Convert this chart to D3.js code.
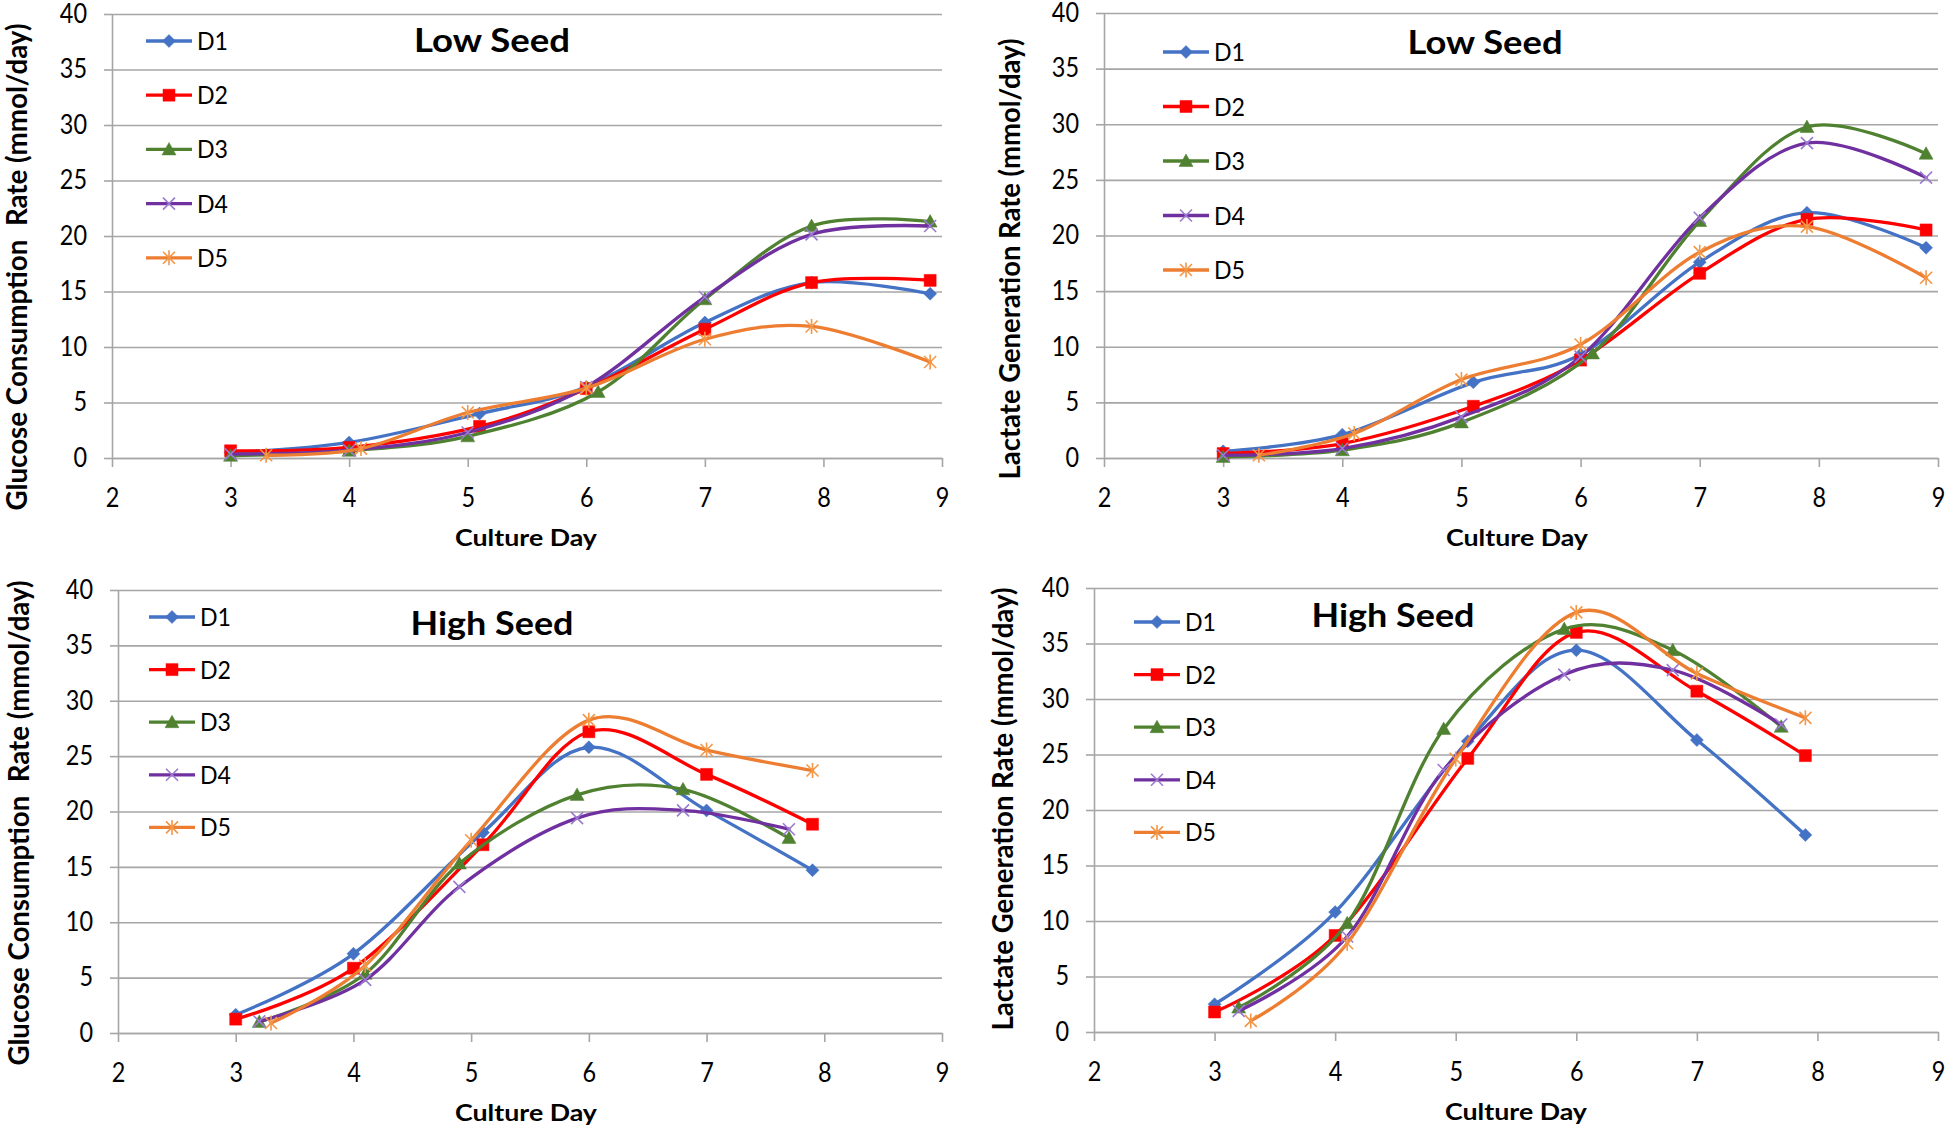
<!DOCTYPE html>
<html><head><meta charset="utf-8">
<script src="https://cdn.jsdelivr.net/npm/d3@7"></script>
<style>
html,body{margin:0;padding:0;background:#fff;}
svg{display:block;background:#fff;}
text{font-family:Lato,'Liberation Sans',sans-serif;fill:#000;}
</style></head><body>
<svg id="chart" width="1949" height="1131"></svg>
<script>
// ---------- data ----------
const seriesNames = ["D1","D2","D3","D4","D5"];
const xTickValues = [2,3,4,5,6,7,8,9];
const yTickValues = [0,5,10,15,20,25,30,35,40];

// culture days of each sample (low seed runs)
const lowDaysD1 = [3,4,5.1,6,7,7.9,8.9];
const lowDaysD2 = [3,4,5.1,6,7,7.9,8.9];
const lowDaysD3 = [3,4,5,6.1,7,7.9,8.9];
const lowDaysD4 = [3,4,5,6,7,7.9,8.9];
const lowDaysD5 = [3.3,4.1,5,6,7,7.9,8.9];
// culture days (high seed runs)
const highDaysD1 = [3,4,5.1,6,7,7.9];
const highDaysD2 = [3,4,5.1,6,7,7.9];
const highDaysD3 = [3.2,4.1,4.9,5.9,6.8,7.7];
const highDaysD4 = [3.2,4.1,4.9,5.9,6.8,7.7];
const highDaysD5 = [3.3,4.1,5,6,7,7.9];

// Low seed - glucose consumption rate (mmol/day)
const lowGlcD1 = [0.5,1.4,4.0,6.4,12.2,15.8,14.8];
const lowGlcD2 = [0.65,0.95,2.85,6.25,11.6,15.8,16.0];
const lowGlcD3 = [0.2,0.65,1.95,5.95,14.3,20.9,21.3];
const lowGlcD4 = [0.35,0.7,2.3,6.4,14.5,20.15,20.9];
const lowGlcD5 = [0.25,0.85,4.1,6.3,10.7,11.85,8.65];

// Low seed - lactate generation rate (mmol/day)
const lowLacD1 = [0.6,2.1,6.8,9.3,17.6,22.05,18.9];
const lowLacD2 = [0.4,1.3,4.65,8.8,16.6,21.45,20.5];
const lowLacD3 = [0.1,0.7,3.2,9.4,21.3,29.75,27.35];
const lowLacD4 = [0.25,0.85,3.7,9.1,21.6,28.3,25.2];
const lowLacD5 = [0.25,2.2,7.05,10.2,18.5,20.8,16.2];

// High seed - glucose consumption rate (mmol/day)
const highGlcD1 = [1.65,7.15,18.1,25.8,20.1,14.7];
const highGlcD2 = [1.25,5.85,17.0,27.2,23.35,18.85];
const highGlcD3 = [1.0,5.35,15.3,21.5,22.0,17.6];
const highGlcD4 = [1.05,4.8,13.2,19.4,20.1,18.4];
const highGlcD5 = [0.9,6.1,17.4,28.25,25.55,23.7];

// High seed - lactate generation rate (mmol/day)
const highLacD1 = [2.5,10.8,26.2,34.4,26.3,17.75];
const highLacD2 = [1.8,8.7,24.65,36.0,30.7,24.9];
const highLacD3 = [2.2,9.8,27.3,36.3,34.4,27.5];
const highLacD4 = [1.9,8.6,23.6,32.2,32.6,27.7];
const highLacD5 = [1.0,8.0,24.6,37.8,32.3,28.3];

const panelTitles = ["Low Seed","Low Seed","High Seed","High Seed"];
const yTitles = ["Glucose Consumption  Rate (mmol/day)","Lactate Generation Rate (mmol/day)",
                 "Glucose Consumption  Rate (mmol/day)","Lactate Generation Rate (mmol/day)"];
const xTitle = "Culture Day";

// ---------- style / layout ----------
const lineColors = ["#4472C4","#FF0000","#4F8131","#7030A0","#ED7D31"];
const markerColors = ["#4472C4","#FF0000","#4F8131","#9B7BD0","#F39646"];
const markerTypes = ["diamond","square","triangle","x","star"];

const panels = [
  {days:[lowDaysD1,lowDaysD2,lowDaysD3,lowDaysD4,lowDaysD5],
   vals:[lowGlcD1,lowGlcD2,lowGlcD3,lowGlcD4,lowGlcD5],
   L:{x0:112,x1:942,y0:458,y1:14,tX:492,tY:52,tW:156,legX:146,legY:41,legStep:54.2,ytX:17,ytY:267,ytLen:487,xtX:526}},
  {days:[lowDaysD1,lowDaysD2,lowDaysD3,lowDaysD4,lowDaysD5],
   vals:[lowLacD1,lowLacD2,lowLacD3,lowLacD4,lowLacD5],
   L:{x0:1104,x1:1938,y0:458,y1:13,tX:1485,tY:54,tW:155,legX:1163,legY:52,legStep:54.5,ytX:1010,ytY:259,ytLen:441,xtX:1517}},
  {days:[highDaysD1,highDaysD2,highDaysD3,highDaysD4,highDaysD5],
   vals:[highGlcD1,highGlcD2,highGlcD3,highGlcD4,highGlcD5],
   L:{x0:118,x1:942,y0:1033,y1:590,tX:492,tY:635,tW:163,legX:149,legY:617,legStep:52.6,ytX:19,ytY:823,ytLen:485,xtX:526}},
  {days:[highDaysD1,highDaysD2,highDaysD3,highDaysD4,highDaysD5],
   vals:[highLacD1,highLacD2,highLacD3,highLacD4,highLacD5],
   L:{x0:1094,x1:1938,y0:1032,y1:588,tX:1393,tY:627,tW:163,legX:1134,legY:622,legStep:52.6,ytX:1003,ytY:809,ytLen:443,xtX:1516}}
];

const markerPaths = {
  diamond: "M0,-6.5L6.5,0L0,6.5L-6.5,0Z",
  square: "M-6,-6H6V6H-6Z",
  triangle: "M0,-7L7,5.5L-7,5.5Z",
  x: "M-6,-6L6,6M-6,6L6,-6",
  star: "M-6,-6L6,6M-6,6L6,-6M0,-7.5V7.5"
};
function styleMarker(sel, i){
  const t = markerTypes[i];
  sel.attr("d", markerPaths[t]);
  if (t === "x" || t === "star") {
    sel.attr("fill","none").attr("stroke",markerColors[i]).attr("stroke-width",1.6);
  } else {
    sel.attr("fill",markerColors[i]).attr("stroke",markerColors[i]).attr("stroke-width",0.5);
  }
}
function narrowTicks(s){
  s.selectAll("text")
    .attr("font-family","Lato, sans-serif").attr("font-size",26).attr("fill","#000")
    .each(function(){
      const t = d3.select(this);
      t.attr("textLength", t.text().length * 13.6).attr("lengthAdjust","spacingAndGlyphs");
    });
}

const svg = d3.select("#chart");
const gridColor = "#a6a6a6";

panels.forEach((p, pi) => {
  const L = p.L;
  const g = svg.append("g");
  const x = d3.scaleLinear().domain([2,9]).range([L.x0, L.x1]);
  const y = d3.scaleLinear().domain([0,40]).range([L.y0, L.y1]);

  // gridlines
  g.append("g").attr("transform",`translate(${L.x0},0)`)
    .call(d3.axisLeft(y).tickValues(yTickValues).tickSize(-(L.x1-L.x0)).tickFormat(""))
    .call(s => s.select(".domain").remove())
    .call(s => s.selectAll("line").attr("stroke",gridColor).attr("stroke-width",1.6));

  // y axis with labels
  g.append("g").attr("transform",`translate(${L.x0},0)`)
    .call(d3.axisLeft(y).tickValues(yTickValues).tickSize(8).tickSizeOuter(0).tickPadding(17))
    .call(s => s.select(".domain").attr("stroke",gridColor).attr("stroke-width",1.6))
    .call(s => s.selectAll("line").attr("stroke",gridColor).attr("stroke-width",1.6))
    .call(narrowTicks);

  // x axis
  g.append("g").attr("transform",`translate(0,${L.y0})`)
    .call(d3.axisBottom(x).tickValues(xTickValues).tickSize(9).tickSizeOuter(0).tickPadding(22).tickFormat(d3.format("d")))
    .call(s => s.select(".domain").attr("stroke",gridColor).attr("stroke-width",1.6))
    .call(s => s.selectAll("line").attr("stroke",gridColor).attr("stroke-width",1.6))
    .call(narrowTicks);

  // series
  const line = d3.line().x(d => x(d[0])).y(d => y(d[1])).curve(d3.curveCardinal.tension(0));
  seriesNames.forEach((name, si) => {
    const pts = p.days[si].map((d, k) => [d, p.vals[si][k]]);
    g.append("path").datum(pts).attr("d", line)
      .attr("fill","none").attr("stroke",lineColors[si]).attr("stroke-width",3.3)
      .attr("stroke-linejoin","round").attr("stroke-linecap","round");
    g.append("g").selectAll("path").data(pts).join("path")
      .attr("transform", d => `translate(${x(d[0])},${y(d[1])})`)
      .call(s => styleMarker(s, si));
  });

  // legend
  seriesNames.forEach((name, si) => {
    const cy = L.legY + si * L.legStep;
    const lg = g.append("g");
    lg.append("line").attr("x1",L.legX).attr("x2",L.legX+46).attr("y1",cy).attr("y2",cy)
      .attr("stroke",lineColors[si]).attr("stroke-width",3.3);
    lg.append("path").attr("transform",`translate(${L.legX+23},${cy})`).call(s => styleMarker(s, si));
    lg.append("text").attr("x",L.legX+51).attr("y",cy).attr("dy","0.36em")
      .attr("font-size",25).attr("textLength",31).attr("lengthAdjust","spacingAndGlyphs").text(name);
  });

  // panel title
  g.append("text").attr("x",L.tX).attr("y",L.tY).attr("text-anchor","middle")
    .attr("font-size",33).attr("font-weight","bold")
    .attr("textLength",L.tW).attr("lengthAdjust","spacingAndGlyphs")
    .text(panelTitles[pi]);

  // x title
  g.append("text").attr("x",L.xtX).attr("y",L.y0+88).attr("text-anchor","middle")
    .attr("font-size",22).attr("font-weight","bold")
    .attr("textLength",142).attr("lengthAdjust","spacingAndGlyphs")
    .text(xTitle);

  // y title
  g.append("text").attr("transform",`translate(${L.ytX+10},${L.ytY}) rotate(-90)`)
    .attr("text-anchor","middle").style("white-space","pre")
    .attr("font-family","'DejaVu Sans', sans-serif").attr("font-size",28).attr("font-weight","bold")
    .attr("textLength",L.ytLen).attr("lengthAdjust","spacingAndGlyphs")
    .text(yTitles[pi]);
});
</script>
</body></html>
